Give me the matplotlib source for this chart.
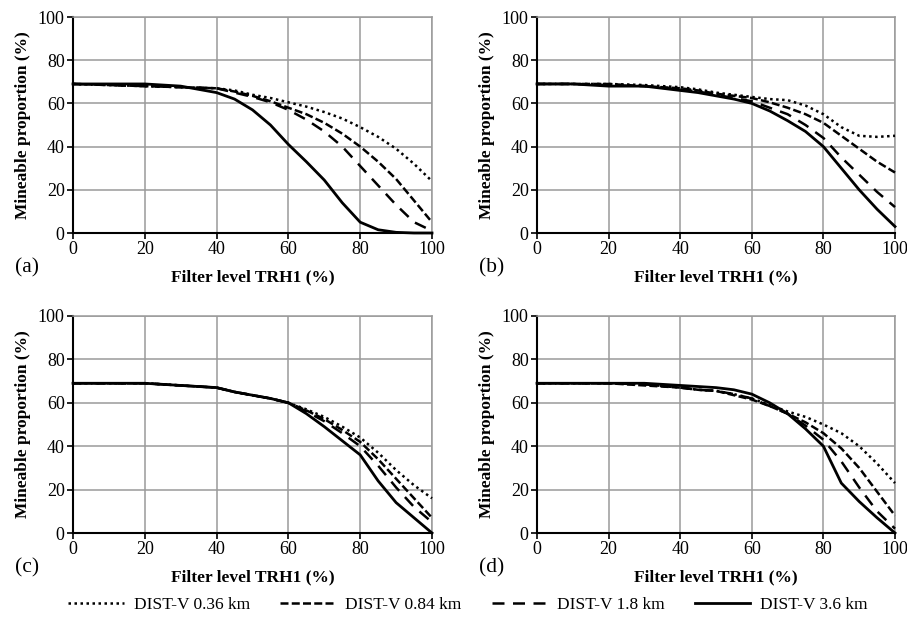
import numpy as np
import matplotlib
matplotlib.use("Agg")
import matplotlib.pyplot as plt
from matplotlib.lines import Line2D

plt.rcParams["font.family"] = ["Liberation Serif", "DejaVu Serif"]

# filter level TRH1 (%)
X = [0, 10, 20, 30, 40, 45, 50, 55, 60, 65, 70, 75, 80, 85, 90, 95, 100]

# (a)
A_036 = [69, 68.5, 68, 67.5, 67, 66, 64, 62.5, 60.5, 58.5, 56, 53, 49, 44.5, 39, 32, 24]
A_084 = [69, 68.5, 68, 67.5, 67, 65.5, 63.5, 61, 58, 55, 51, 46, 40, 33, 25, 15, 5]
A_18 = [69, 68.5, 68, 67.5, 67, 65, 63, 60.5, 57, 52.5, 47, 40, 31, 22, 13, 5, 1]
A_36 = [69, 69, 69, 68, 65, 62, 57, 50, 41, 33, 24.5, 14, 5, 1.5, 0.3, 0, 0]
# (b)
B_036 = [69, 69, 69, 68.5, 67.5, 66.5, 65, 64, 63, 62, 61.5, 59, 55, 49, 45, 44.5, 45]
B_084 = [69, 69, 69, 68, 67, 66, 64.5, 63.5, 62.5, 60.5, 58, 55, 51, 45, 39, 33, 28]
B_18 = [69, 69, 68.5, 68, 66.5, 65.5, 64, 62.5, 61, 58, 55, 50, 44, 35, 27, 19, 12]
B_36 = [69, 69, 68, 68, 66, 65, 63.5, 62, 60, 56.5, 52, 47, 40, 30, 20, 11, 3]
# (c)
C_036 = [69, 69, 69, 68, 67, 65, 63.5, 62, 60, 57, 53.5, 49, 44, 37, 29, 22, 16]
C_084 = [69, 69, 69, 68, 67, 65, 63.5, 62, 60, 56.5, 52.5, 47.5, 42, 34, 25, 16, 7]
C_18 = [69, 69, 69, 68, 67, 65, 63.5, 62, 60, 56, 51.5, 46, 40, 31, 21, 12, 5]
C_36 = [69, 69, 69, 68, 67, 65, 63.5, 62, 60, 55, 49, 42.5, 36, 24, 14, 7, 0]
# (d)
D_036 = [69, 69, 69, 68.5, 67, 66, 65.5, 64, 62, 59, 56, 53.5, 50, 46, 40, 32, 23]
D_084 = [69, 69, 69, 68, 67, 66, 65.5, 63.5, 61.5, 58.5, 55, 51, 46, 39, 30, 19, 8]
D_18 = [69, 69, 69, 68.5, 67, 66, 65.5, 64, 62, 58.5, 55, 49.5, 43, 33, 21, 10, 2]
D_36 = [69, 69, 69, 69, 68, 67.5, 67, 66, 64, 60, 55, 48, 40, 23, 14.5, 7, 0]

PANELS = [("(a)", [A_036, A_084, A_18, A_36]),
          ("(b)", [B_036, B_084, B_18, B_36]),
          ("(c)", [C_036, C_084, C_18, C_36]),
          ("(d)", [D_036, D_084, D_18, D_36])]
NAMES = ["DIST-V 0.36 km", "DIST-V 0.84 km", "DIST-V 1.8 km", "DIST-V 3.6 km"]
STYLES = [((0, (1, 1.4)), 1.8), ((0, (3.2, 1.3)), 1.8), ((0, (4.8, 3.4)), 1.8), ("-", 2.0)]

W, H = 907, 624
fig = plt.figure(figsize=(W / 100, H / 100), dpi=100)
fig.patch.set_facecolor("white")

# axes boxes in pixels: (left, top, right, bottom), panel label y
BOX = [(73, 17, 432, 233, 268), (537, 17, 895, 233, 268),
       (73, 316, 432, 533, 568), (537, 316, 895, 533, 568)]
GRID = "#9a9a9a"

for (lab, series), (l, t, r, b, ly) in zip(PANELS, BOX):
    ax = fig.add_axes([l / W, 1 - b / H, (r - l) / W, (b - t) / H])
    for y, (ls, lw) in zip(series, STYLES):
        ax.plot(X, y, color="black", linestyle=ls, linewidth=lw, clip_on=False,
                zorder=3)
    ax.set_xlim(0, 100); ax.set_ylim(0, 100)
    ax.set_xticks(range(0, 101, 20)); ax.set_yticks(range(0, 101, 20))
    ax.grid(True, color=GRID, linewidth=1.1)
    ax.set_axisbelow(True)
    for s in ("top", "right"):
        ax.spines[s].set_color(GRID); ax.spines[s].set_linewidth(1.1)
    for s in ("left", "bottom"):
        ax.spines[s].set_color("black"); ax.spines[s].set_linewidth(1.5)
        ax.spines[s].set_zorder(2.5)
    ax.tick_params(direction="out", length=4, width=1.2, labelsize=13, pad=2)
    ax.set_xlabel("Filter level TRH1 (%)", fontsize=12.5, fontweight="bold", labelpad=8)
    ax.set_ylabel("Mineable proportion (%)", fontsize=12.5, fontweight="bold", labelpad=5)
    fig.text((l - 58) / W, 1 - ly / H, lab, fontsize=15.5, va="center", ha="left")

handles = [Line2D([], [], color="black", linestyle=ls, linewidth=lw)
           for ls, lw in STYLES]
fig.legend(handles, NAMES, loc="center", bbox_to_anchor=(468 / W, 1 - 605 / H), ncol=4,
           frameon=False, fontsize=12.5, handlelength=3.2, columnspacing=1.75,
           handletextpad=0.55)

fig.savefig("out.png", dpi=100, facecolor="white")
